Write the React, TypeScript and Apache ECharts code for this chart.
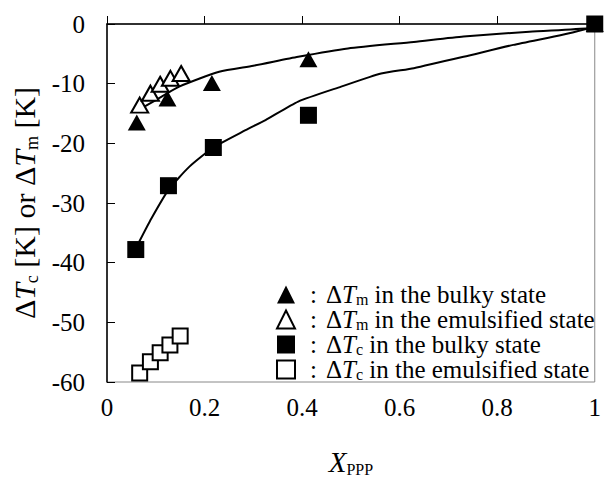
import React, { useEffect, useRef } from "react";
import * as echarts from "echarts";

// Measured points
const tmBulkyX = [0.061, 0.124, 0.215, 0.413, 1.0];
const tmBulkyY = [-16.5, -12.5, -9.9, -5.9, 0];
const tmEmulX = [0.067, 0.089, 0.109, 0.13, 0.152];
const tmEmulY = [-13.6, -11.6, -10.1, -9.1, -8.3];
const tcBulkyX = [0.059, 0.126, 0.218, 0.413, 1.0];
const tcBulkyY = [-37.8, -27.1, -20.7, -15.3, 0];
const tcEmulX = [0.067, 0.089, 0.109, 0.129, 0.15];
const tcEmulY = [-58.5, -56.6, -55.1, -53.8, -52.3];

// Fitted curves
const fitTmX = [0.065, 0.101, 0.148, 0.23, 0.3, 0.392, 0.494, 0.629, 0.731, 0.866, 0.988, 1.0];
const fitTmY = [-14.4, -12.7, -10.5, -8.0, -7.0, -5.5, -4.1, -3.0, -2.1, -1.3, -0.7, -0.4];
const fitTcX = [0.066, 0.091, 0.126, 0.169, 0.218, 0.284, 0.325, 0.392, 0.48, 0.562, 0.629, 0.731, 0.833, 0.934, 0.988, 1.0];
const fitTcY = [-36.5, -32.6, -27.8, -23.9, -20.7, -17.8, -16.1, -13.0, -10.5, -8.3, -7.4, -5.5, -3.5, -1.8, -0.7, -0.4];

const xTicks = { min: 0, max: 1, interval: 0.2 };
const yTicks = { min: -60, max: 0, interval: 10 };

const names = ["tmBulky", "tmEmul", "tcBulky", "tcEmul"];
const legendTexts: Record<string, string> = {
  tmBulky: "{c|:}{n|Δ}{i|T}{s|m}{n| in the bulky state}",
  tmEmul: "{c|:}{n|Δ}{i|T}{s|m}{n| in the emulsified state}",
  tcBulky: "{c|:}{n|Δ}{i|T}{s|c}{n| in the bulky state}",
  tcEmul: "{c|:}{n|Δ}{i|T}{s|c}{n| in the emulsified state}",
};

const zip = (xs: number[], ys: number[]) => xs.map((x, i) => [x, ys[i]]);
const FONT = "Liberation Serif";

export default function App() {
  const ref = useRef<HTMLDivElement>(null);
  useEffect(() => {
    if (!ref.current) return;
    const chart = echarts.init(ref.current, null, { renderer: "svg" });
    const filled = { color: "#000", opacity: 1 };
    const open = { color: "#fff", borderColor: "#000", borderWidth: 2, opacity: 1 };
    const LF = 25;
    const richBase = {
      c: { fontFamily: FONT, fontSize: LF, color: "#000", lineHeight: 25, padding: [0, 9, 0, 10] },
      n: { fontFamily: FONT, fontSize: LF, color: "#000", lineHeight: 25 },
      i: { fontFamily: FONT, fontSize: LF, fontStyle: "italic", color: "#000", lineHeight: 25 },
      s: { fontFamily: FONT, fontSize: 16, color: "#000", lineHeight: 15, verticalAlign: "bottom" },
    };
    const labelStyle = { fontFamily: FONT, fontSize: 25, color: "#000", fontWeight: "normal", fontStyle: "normal" };
    chart.setOption({
      animation: false,
      backgroundColor: "#fff",
      textStyle: { fontFamily: FONT, color: "#000" },
      grid: { left: 107, right: 5, top: 24, bottom: 100, show: true, borderColor: "#888", borderWidth: 1 },
      xAxis: {
        type: "value",
        ...xTicks,
        axisLine: { lineStyle: { color: "#000", width: 1.5 } },
        axisTick: { inside: true, length: 8, lineStyle: { color: "#000", width: 1 } },
        splitLine: { show: false },
        axisLabel: { ...labelStyle, margin: 13, textStyle: labelStyle },
        name: "{x|X}{p|PPP}",
        nameLocation: "middle",
        nameGap: 65,
        nameTextStyle: {
          rich: {
            x: { fontFamily: FONT, fontSize: 29, fontStyle: "italic", color: "#000", lineHeight: 30 },
            p: { fontFamily: FONT, fontSize: 16, color: "#000", lineHeight: 17, verticalAlign: "bottom" },
          },
        },
      },
      yAxis: {
        type: "value",
        ...yTicks,
        axisLine: { lineStyle: { color: "#000", width: 1.5 } },
        axisTick: { inside: true, length: 8, lineStyle: { color: "#000", width: 1 } },
        splitLine: { show: false },
        axisLabel: { ...labelStyle, margin: 22, textStyle: labelStyle },
        name: "{n|Δ}{i|T}{s|c}{n| [K] or Δ}{i|T}{s|m}{n| [K]}",
        nameLocation: "middle",
        nameGap: 66,
        nameTextStyle: {
          rich: {
            n: { fontFamily: FONT, fontSize: 30, color: "#000", lineHeight: 32 },
            i: { fontFamily: FONT, fontSize: 30, fontStyle: "italic", color: "#000", lineHeight: 32 },
            s: { fontFamily: FONT, fontSize: 18, color: "#000", lineHeight: 18, verticalAlign: "bottom" },
          },
        },
      },
      legend: {
        data: names,
        orient: "vertical",
        left: 276,
        top: 282,
        itemWidth: 18,
        itemHeight: 18,
        itemGap: 0,
        padding: 0,
        selectedMode: false,
        formatter: (name: string) => legendTexts[name],
        textStyle: { rich: richBase, lineHeight: 25 },
      },
      series: [
        { type: "line", name: "fitTm", data: zip(fitTmX, fitTmY), smooth: 0.2, showSymbol: false, lineStyle: { color: "#000", width: 2 }, z: 1 },
        { type: "line", name: "fitTc", data: zip(fitTcX, fitTcY), smooth: 0.2, showSymbol: false, lineStyle: { color: "#000", width: 2 }, z: 1 },
        { type: "scatter", name: "tmBulky", data: zip(tmBulkyX, tmBulkyY), symbol: "triangle", symbolSize: [18, 16], itemStyle: filled, z: 3 },
        { type: "scatter", name: "tmEmul", data: zip(tmEmulX, tmEmulY), symbol: "triangle", symbolSize: [17, 15], itemStyle: open, z: 4 },
        { type: "scatter", name: "tcBulky", data: zip(tcBulkyX, tcBulkyY), symbol: "rect", symbolSize: 17, itemStyle: filled, z: 5 },
        { type: "scatter", name: "tcEmul", data: zip(tcEmulX, tcEmulY), symbol: "rect", symbolSize: 15, itemStyle: open, z: 4 },
      ],
    });
    return () => chart.dispose();
  }, []);
  return <div ref={ref} style={{ position: "fixed", left: 0, top: 0, width: 604, height: 482 }} />;
}
